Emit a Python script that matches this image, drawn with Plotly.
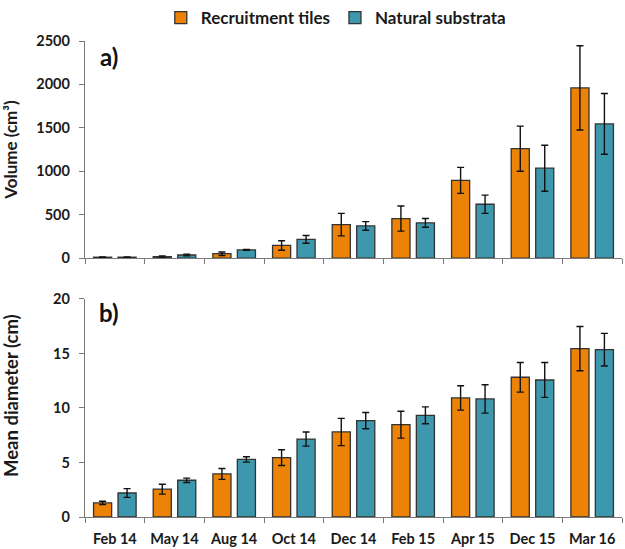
import plotly.graph_objects as go

categories = ["Feb 14", "May 14", "Aug 14", "Oct 14", "Dec 14", "Feb 15", "Apr 15", "Dec 15", "Mar 16"]

vol_tiles = [10, 15, 50, 145, 385, 455, 895, 1260, 1960]
vol_tiles_err = [4, 10, 20, 55, 130, 145, 150, 260, 485]
vol_nat = [10, 35, 95, 215, 370, 405, 620, 1035, 1545]
vol_nat_err = [3, 10, 5, 45, 50, 50, 105, 265, 350]

dia_tiles = [1.3, 2.55, 3.95, 5.45, 7.8, 8.47, 10.92, 12.82, 15.44]
dia_tiles_err = [0.15, 0.45, 0.5, 0.72, 1.25, 1.23, 1.12, 1.36, 2.03]
dia_nat = [2.2, 3.37, 5.28, 7.15, 8.84, 9.33, 10.83, 12.57, 15.35]
dia_nat_err = [0.4, 0.2, 0.25, 0.65, 0.75, 0.77, 1.3, 1.6, 1.5]

ORANGE = "#EC8306"
TEAL = "#3D98AE"
EDGE = "#333333"
FONT = "Lato"

fig = go.Figure()

def add(y, err, name, color, xa, ya, show):
    fig.add_trace(go.Bar(
        x=categories, y=y, name=name, xaxis=xa, yaxis=ya,
        marker=dict(color=color, line=dict(color=EDGE, width=1.3)),
        error_y=dict(type="data", array=err, visible=True, color="#111111", thickness=1.4, width=3.5),
        showlegend=show, legendgroup=name,
    ))

add(vol_tiles, vol_tiles_err, "Recruitment tiles", ORANGE, "x", "y", True)
add(vol_nat, vol_nat_err, "Natural substrata", TEAL, "x", "y", True)
add(dia_tiles, dia_tiles_err, "Recruitment tiles", ORANGE, "x2", "y2", False)
add(dia_nat, dia_nat_err, "Natural substrata", TEAL, "x2", "y2", False)

axis_common = dict(showline=True, linecolor="#7a7a7a", linewidth=1.4, ticks="outside",
                   ticklen=5, tickcolor="#7a7a7a", tickwidth=1.4, showgrid=False, zeroline=False,
                   tickfont=dict(family=FONT, size=14.5, color="#1a1a1a", weight="bold"))

fig.update_layout(
    width=625, height=549,
    margin=dict(l=85, r=3, t=41, b=32, autoexpand=False),
    paper_bgcolor="white", plot_bgcolor="white",
    barmode="group", bargap=0.18, bargroupgap=0.26,
    font=dict(family=FONT, color="#1a1a1a"),
    legend=dict(orientation="h", x=0.467, xanchor="center", y=1.0, yanchor="top",
                yref="container", font=dict(family=FONT, size=17, weight="bold"),
                tracegroupgap=0),
    xaxis=dict(domain=[0, 1], anchor="y", tickson="boundaries", showticklabels=False, **axis_common),
    yaxis=dict(domain=[0.544, 1], anchor="x", range=[0, 2500], dtick=500, ticklabelstandoff=6,
               title=dict(text="Volume (cm³)", standoff=14, font=dict(family=FONT, size=17, weight="bold")),
               **axis_common),
    xaxis2=dict(domain=[0, 1], anchor="y2", tickson="boundaries", ticklabelstandoff=8, **axis_common),
    yaxis2=dict(domain=[0, 0.458], anchor="x2", range=[0, 20], dtick=5, ticklabelstandoff=6,
                **axis_common),
    annotations=[
        dict(text="a)", x=0.044, xref="paper", y=(517 - 56) / 476, yref="paper", xanchor="center",
             yanchor="middle", showarrow=False, font=dict(family=FONT, size=24, weight="bold", color="#111")),
        dict(text="b)", x=0.044, xref="paper", y=(517 - 312) / 476, yref="paper", xanchor="center",
             yanchor="middle", showarrow=False, font=dict(family=FONT, size=24, weight="bold", color="#111")),
        dict(text="Mean diameter (cm)", textangle=-90, x=-74 / 537, xref="paper", y=(517 - 396) / 476,
             yref="paper", xanchor="center", yanchor="middle", showarrow=False,
             font=dict(family=FONT, size=18.5, weight="bold", color="#1a1a1a")),
    ],
)

fig.write_html("out.html", config={"displayModeBar": False},
               post_script="document.body.style.margin='0';document.body.style.overflow='hidden';")
